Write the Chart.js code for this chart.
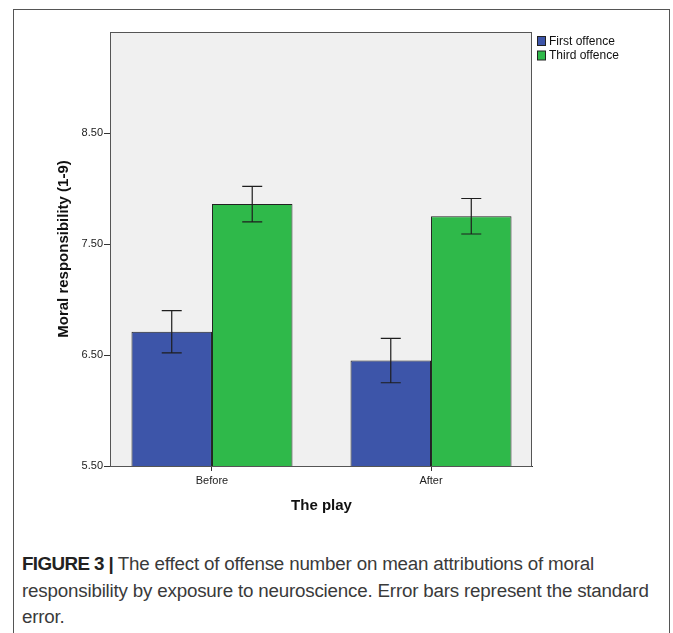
<!DOCTYPE html>
<html>
<head>
<meta charset="utf-8">
<script src="https://cdn.jsdelivr.net/npm/chart.js@4/dist/chart.umd.min.js"></script>
<style>
  html, body { margin: 0; padding: 0; background: #fff; }
  body { width: 673px; height: 633px; overflow: hidden; position: relative; }
  .frame {
    position: absolute; left: 13px; top: 9px;
    width: 655px; height: 700px;
    border: 1px solid #555;
  }
  #chart { position: absolute; left: 14px; top: 10px; }
  .caption {
    position: absolute; left: 22px; top: 551px;
    font-family: "Liberation Sans", Arial, sans-serif;
    font-size: 18.8px; line-height: 26.5px;
    color: #3a3a3a; white-space: nowrap;
    letter-spacing: -0.2px;
  }
  .caption b { color: #222; letter-spacing: -0.6px; }
</style>
</head>
<body>
<div class="frame"></div>
<canvas id="chart" width="654" height="510"></canvas>
<div class="caption"><b>FIGURE 3 |</b> The effect of offense number on mean attributions of moral<br>responsibility by exposure to neuroscience. Error bars represent the standard<br>error.</div>
<script>
// Groups on the x axis and their positions
const categories = ['Before', 'After'];
const categoryPositions = [0, 1];

// Mean moral responsibility ratings (1-9) and standard errors
const seriesNames = ['First offence', 'Third offence'];
const firstOffence = [6.71, 6.45];
const thirdOffence = [7.86, 7.75];
const firstOffenceSE = [0.19, 0.20];
const thirdOffenceSE = [0.16, 0.16];

// Y axis ticks
const yTickValues = [5.5, 6.5, 7.5, 8.5];

const colors = ['#3D55A9', '#2FB94A'];
const fontFamily = '"Liberation Sans", Arial, sans-serif';

const toPoints = (vals) => vals.map((v, i) => ({ x: categoryPositions[i], y: v }));

// Grey plot panel with a thin frame
const panelPlugin = {
  id: 'panel',
  beforeDatasetsDraw(chart) {
    const { ctx, chartArea: a } = chart;
    ctx.save();
    ctx.fillStyle = '#F0F0F0';
    ctx.fillRect(a.left, a.top, a.right - a.left, a.bottom - a.top);
    ctx.restore();
  },
  afterDraw(chart) {
    const { ctx, chartArea: a } = chart;
    ctx.save();
    ctx.strokeStyle = '#555';
    ctx.lineWidth = 1;
    ctx.strokeRect(Math.round(a.left) - 0.5, Math.round(a.top) + 0.5,
                   Math.round(a.right - a.left), Math.round(a.bottom - a.top));
    ctx.restore();
  }
};

// Standard error whiskers over each bar
const errorBarPlugin = {
  id: 'errorBars',
  afterDatasetsDraw(chart) {
    const { ctx } = chart;
    const yScale = chart.scales.y;
    ctx.save();
    ctx.strokeStyle = '#1e1e1e';
    ctx.lineWidth = 1.2;
    chart.data.datasets.forEach((ds, di) => {
      const meta = chart.getDatasetMeta(di);
      meta.data.forEach((bar, i) => {
        const v = ds.data[i].y;
        const se = ds.errors[i];
        const top = yScale.getPixelForValue(v + se);
        const bot = yScale.getPixelForValue(v - se);
        const x = bar.x;
        const half = 10;
        ctx.beginPath();
        ctx.moveTo(x, top); ctx.lineTo(x, bot);
        ctx.moveTo(x - half, top); ctx.lineTo(x + half, top);
        ctx.moveTo(x - half, bot); ctx.lineTo(x + half, bot);
        ctx.stroke();
      });
    });
    ctx.restore();
  }
};

// Legend to the right of the plot panel
const sideLegendPlugin = {
  id: 'sideLegend',
  afterDraw(chart) {
    const { ctx, chartArea: a } = chart;
    ctx.save();
    ctx.font = '12px ' + fontFamily;
    ctx.textBaseline = 'middle';
    chart.data.datasets.forEach((ds, i) => {
      const bx = a.right + 5.5, by = 26.5 + i * 14.5;
      ctx.fillStyle = ds.backgroundColor;
      ctx.fillRect(bx, by, 8, 9);
      ctx.strokeStyle = '#222';
      ctx.lineWidth = 1;
      ctx.strokeRect(bx, by, 8, 9);
      ctx.fillStyle = '#111';
      ctx.fillText(ds.label, bx + 11.5, by + 5);
    });
    ctx.restore();
  }
};

new Chart(document.getElementById('chart'), {
  type: 'bar',
  data: {
    datasets: [
      { label: seriesNames[0], data: toPoints(firstOffence), errors: firstOffenceSE,
        backgroundColor: colors[0], borderColor: '#222', borderWidth: 1,
        categoryPercentage: 0.735, barPercentage: 1 },
      { label: seriesNames[1], data: toPoints(thirdOffence), errors: thirdOffenceSE,
        backgroundColor: colors[1], borderColor: '#222', borderWidth: 1,
        categoryPercentage: 0.735, barPercentage: 1 }
    ]
  },
  options: {
    responsive: false,
    animation: false,
    devicePixelRatio: 1,
    layout: { padding: { left: 0, right: 136, top: 22, bottom: 0 } },
    plugins: { legend: { display: false }, tooltip: { enabled: false } },
    scales: {
      x: {
        type: 'linear',
        offset: false,
        min: -0.461, max: 1.461,
        afterBuildTicks: (s) => { s.ticks = categoryPositions.map(v => ({ value: v })); },
        afterFit: (s) => { s.height = 54; },
        grid: { offset: false, drawOnChartArea: false, drawTicks: true, tickLength: 5, color: '#333' },
        border: { display: true, color: '#333', width: 1 },
        ticks: {
          padding: 3, color: '#222', font: { family: fontFamily, size: 11 },
          maxRotation: 0, autoSkip: false,
          callback: (v, i) => categories[i]
        },
        title: {
          display: true, text: 'The play', color: '#111',
          font: { family: fontFamily, size: 15, weight: 'bold' },
          padding: { top: 0, bottom: 5 }
        }
      },
      y: {
        min: 5.5, max: 9.41,
        afterBuildTicks: (s) => { s.ticks = yTickValues.map(v => ({ value: v })); },
        afterFit: (s) => { s.width = 97; },
        grid: { drawOnChartArea: false, drawTicks: true, tickLength: 7, color: '#333' },
        border: { display: true, color: '#333', width: 1 },
        ticks: {
          padding: 1, color: '#222', font: { family: fontFamily, size: 11 },
          callback: (v) => Number(v).toFixed(2)
        },
        title: {
          display: true, text: 'Moral responsibility (1-9)', color: '#111',
          font: { family: fontFamily, size: 15, weight: 'bold' },
          padding: { top: 41, bottom: 0 }
        }
      }
    }
  },
  plugins: [panelPlugin, errorBarPlugin, sideLegendPlugin]
});
</script>
</body>
</html>
